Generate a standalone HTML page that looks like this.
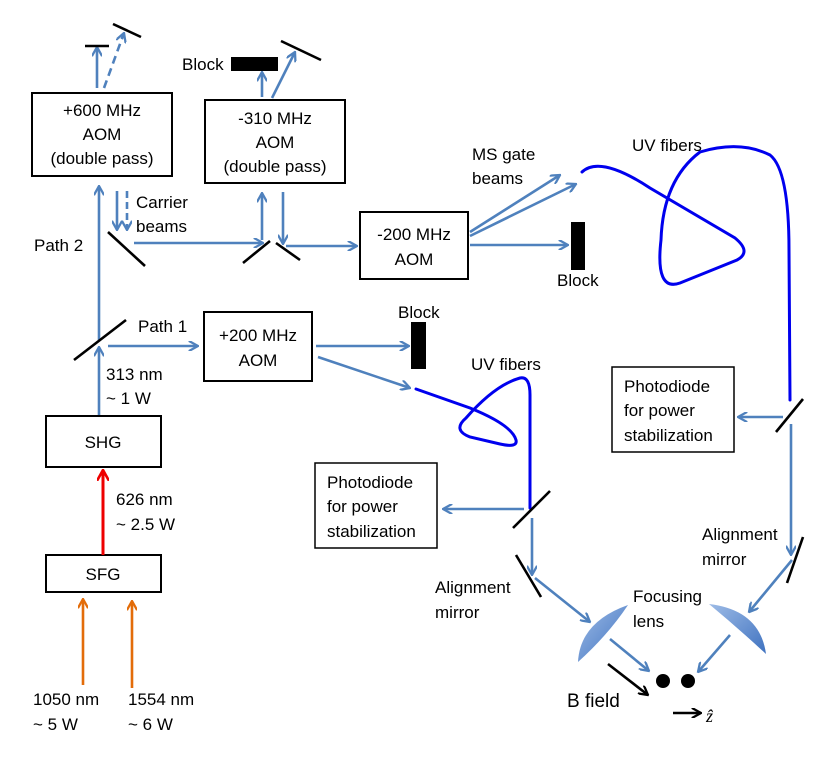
<!DOCTYPE html>
<html><head><style>body{margin:0;background:#fff}svg{display:block}text{font-family:"Liberation Sans",sans-serif;font-size:17px;fill:#000}</style></head><body>
<svg width="830" height="779" viewBox="0 0 830 779" xmlns="http://www.w3.org/2000/svg">
<defs>
<marker id="a" viewBox="0 0 10 10" refX="9" refY="5" markerWidth="4" markerHeight="4" orient="auto"><path d="M0,0 L9,5 L0,10" fill="none" stroke="#4f81bd" stroke-width="2.2"/></marker>
<marker id="r" viewBox="0 0 10 10" refX="9" refY="5" markerWidth="4" markerHeight="4" orient="auto"><path d="M0,0 L9,5 L0,10" fill="none" stroke="#e00" stroke-width="2.2"/></marker>
<marker id="o" viewBox="0 0 10 10" refX="9" refY="5" markerWidth="4" markerHeight="4" orient="auto"><path d="M0,0 L9,5 L0,10" fill="none" stroke="#e36c09" stroke-width="2.2"/></marker>
<marker id="k" viewBox="0 0 10 10" refX="9" refY="5" markerWidth="4" markerHeight="4" orient="auto"><path d="M0,0 L9,5 L0,10" fill="none" stroke="#000" stroke-width="2.2"/></marker>
<linearGradient id="lg" x1="0" y1="0" x2="1" y2="1"><stop offset="0" stop-color="#9dbbe6"/><stop offset="1" stop-color="#3f72c0"/></linearGradient>
</defs>
<g fill="none" stroke="#000" stroke-width="2">
<rect x="32" y="93" width="140" height="83"/>
<rect x="205" y="100" width="140" height="83"/>
<rect x="360" y="212" width="108" height="67"/>
<rect x="204" y="312" width="108" height="69"/>
<rect x="46" y="416" width="115" height="51"/>
<rect x="46" y="555" width="115" height="37"/>
<rect x="612" y="367" width="122" height="85" stroke-width="1.5"/>
<rect x="315" y="463" width="122" height="85" stroke-width="1.5"/>
</g>
<g fill="none" stroke="#4f81bd" stroke-width="2.6">
<line x1="99" y1="415" x2="99" y2="347" marker-end="url(#a)"/>
<line x1="99" y1="340" x2="99" y2="186" marker-end="url(#a)"/>
<line x1="108" y1="346" x2="198" y2="346" marker-end="url(#a)"/>
<line x1="117" y1="191" x2="117" y2="230" marker-end="url(#a)"/>
<line x1="127" y1="191" x2="127" y2="230" stroke-dasharray="7,4" marker-end="url(#a)"/>
<line x1="134" y1="243" x2="263" y2="243" marker-end="url(#a)"/>
<line x1="262" y1="240" x2="262" y2="193" marker-end="url(#a)"/>
<line x1="283" y1="192" x2="283" y2="244" marker-end="url(#a)"/>
<line x1="286" y1="246" x2="357" y2="246" marker-end="url(#a)"/>
<line x1="97" y1="88" x2="97" y2="47" marker-end="url(#a)"/>
<line x1="104" y1="88" x2="124" y2="33" stroke-dasharray="8,5" marker-end="url(#a)"/>
<line x1="262" y1="97" x2="262" y2="72" marker-end="url(#a)"/>
<line x1="272" y1="98" x2="295" y2="52" marker-end="url(#a)"/>
<line x1="470" y1="232" x2="560" y2="175" marker-end="url(#a)"/>
<line x1="470" y1="236" x2="576" y2="184" marker-end="url(#a)"/>
<line x1="470" y1="245" x2="568" y2="245" marker-end="url(#a)"/>
<line x1="316" y1="346" x2="409" y2="346" marker-end="url(#a)"/>
<line x1="318" y1="357" x2="410" y2="388" marker-end="url(#a)"/>
<line x1="783" y1="417" x2="738" y2="417" marker-end="url(#a)"/>
<line x1="791" y1="424" x2="791" y2="555" marker-end="url(#a)"/>
<line x1="792" y1="560" x2="749" y2="612" marker-end="url(#a)"/>
<line x1="730" y1="635" x2="698" y2="672" marker-end="url(#a)"/>
<line x1="524" y1="509" x2="443" y2="509" marker-end="url(#a)"/>
<line x1="532" y1="518" x2="532" y2="575" marker-end="url(#a)"/>
<line x1="535" y1="578" x2="590" y2="622" marker-end="url(#a)"/>
<line x1="610" y1="639" x2="649" y2="671" marker-end="url(#a)"/>
</g>
<line x1="103" y1="555" x2="103" y2="470" stroke="#e00" stroke-width="3" marker-end="url(#r)"/>
<line x1="83" y1="685" x2="83" y2="599" stroke="#e36c09" stroke-width="2.6" marker-end="url(#o)"/>
<line x1="132" y1="688" x2="132" y2="601" stroke="#e36c09" stroke-width="2.6" marker-end="url(#o)"/>
<g stroke="#0000ee" stroke-width="3" fill="none" stroke-linecap="round">
<path d="M582,172 Q600,155 650,188 L735,238 Q752,252 737,260 L680,283 Q655,292 661,240 Q663,180 700,152 Q740,140 770,155 Q789,170 789,250 L790,400"/>
<path d="M416,389 L470,408 Q512,425 516,440 Q518,448 500,444 L470,437 Q452,430 466,418 Q495,385 520,378 Q530,376 530,395 L530,508"/>
</g>
<g stroke="#000" stroke-width="2.6">
<line x1="74" y1="360" x2="126" y2="320"/>
<line x1="108" y1="232" x2="145" y2="266"/>
<line x1="243" y1="263" x2="270" y2="241"/>
<line x1="276" y1="243" x2="300" y2="260"/>
<line x1="85" y1="46" x2="109" y2="46"/>
<line x1="113" y1="24" x2="141" y2="37"/>
<line x1="281" y1="41" x2="321" y2="60"/>
<line x1="776" y1="432" x2="803" y2="399"/>
<line x1="787" y1="583" x2="803" y2="537"/>
<line x1="513" y1="528" x2="550" y2="491"/>
<line x1="516" y1="555" x2="541" y2="597"/>
<line x1="608" y1="664" x2="648" y2="695" marker-end="url(#k)"/>
<line x1="673" y1="713" x2="701" y2="713" marker-end="url(#k)"/>
</g>
<rect x="231" y="57" width="47" height="14" fill="#000"/>
<rect x="571" y="222" width="14" height="48" fill="#000"/>
<rect x="411" y="322" width="15" height="47" fill="#000"/>
<circle cx="663" cy="681" r="7" fill="#000"/>
<circle cx="688" cy="681" r="7" fill="#000"/>
<path d="M578,662 Q580,622 628,605 Q608,635 578,662Z" fill="url(#lg)"/>
<path d="M709,604 Q760,610 766,654 Q738,628 709,604Z" fill="url(#lg)"/>
<g text-anchor="middle">
<text x="102" y="116">+600 MHz</text><text x="102" y="140">AOM</text><text x="102" y="164">(double pass)</text>
<text x="275" y="124">-310 MHz</text><text x="275" y="148">AOM</text><text x="275" y="172">(double pass)</text>
<text x="414" y="240">-200 MHz</text><text x="414" y="265">AOM</text>
<text x="258" y="341">+200 MHz</text><text x="258" y="366">AOM</text>
<text x="103" y="448">SHG</text><text x="103" y="580">SFG</text>
</g>
<g style="font-size:16px">
<text x="624" y="392">Photodiode</text><text x="624" y="416">for power</text><text x="624" y="441">stabilization</text>
<text x="327" y="488">Photodiode</text><text x="327" y="512">for power</text><text x="327" y="537">stabilization</text>
</g>
<text x="136" y="208">Carrier</text><text x="136" y="232">beams</text>
<text x="34" y="251">Path 2</text><text x="138" y="332">Path 1</text>
<text x="182" y="70">Block</text><text x="557" y="286">Block</text><text x="398" y="318">Block</text>
<text x="472" y="160">MS gate</text><text x="472" y="184">beams</text>
<text x="632" y="151">UV fibers</text><text x="471" y="370">UV fibers</text>
<text x="106" y="380">313 nm</text><text x="106" y="404">~ 1 W</text>
<text x="116" y="505">626 nm</text><text x="116" y="530">~ 2.5 W</text>
<text x="33" y="705">1050 nm</text><text x="33" y="730">~ 5 W</text>
<text x="128" y="705">1554 nm</text><text x="128" y="730">~ 6 W</text>
<text x="702" y="540">Alignment</text><text x="702" y="565">mirror</text>
<text x="435" y="593">Alignment</text><text x="435" y="618">mirror</text>
<text x="633" y="602">Focusing</text><text x="633" y="627">lens</text>
<text x="567" y="707" style="font-size:19px">B field</text>
<text x="706" y="722" style="font-family:'Liberation Serif',serif;font-style:italic;font-size:18px">ẑ</text>
</svg>
</body></html>
